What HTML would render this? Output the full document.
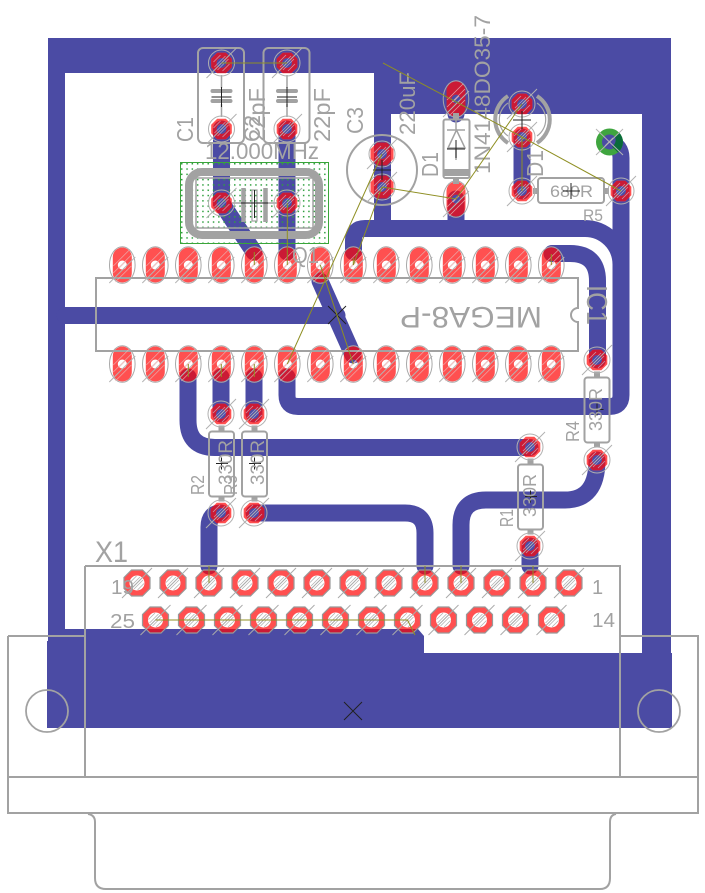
<!DOCTYPE html>
<html><head><meta charset="utf-8"><style>
html,body{margin:0;padding:0;background:#fff}
svg{display:block}
text{font-family:"Liberation Sans",sans-serif;fill:#a2a2a2}
</style></head><body>
<svg width="705" height="893" viewBox="0 0 705 893">
<defs>
<g id="cu">
<path fill="currentColor" fill-rule="evenodd" d="M48 38H671V653L672 653V728H47V641H48ZM65 73V629H418L424 636V653H642V114H391V220H374V73Z"/>
<path fill="none" stroke="currentColor" stroke-width="17" stroke-linecap="round" d="M221.5 129V203L254 252M287 129V252M353.5 252V240Q353.5 228.5 365 228.5H585A36 36 0 0 1 621 264.5V395Q621 406.5 609.5 406.5H298Q287 406.5 287 395V377M552 253.5H570Q597.5 253.5 597.5 281V360M609.5 142Q621 146 621 158V265M320 281L353 355M65 315.5H337M188 377V420Q188 447.5 215 447.5H530M221 377V414M254 377V414M254 513H405Q425 513 425 533V566M221 513Q209 513 209 527V566M461 566V525Q461 500 486 500H565Q597 500 597 460M530 546V566M522 137V191M456 99V114M456 199V228"/>
</g>
<path id="v" fill-rule="evenodd" d="M-4.300-10.300H4.300L10.300-4.300V4.300L4.300 10.300H-4.300L-10.300 4.300V-4.300ZM0-5A5 5 0 1 0 0 5A5 5 0 1 0 0-5Z"/>
<path id="vl" fill-rule="evenodd" d="M-4.800-11.500H4.800L11.500-4.800V4.800L4.800 11.500H-4.800L-11.500 4.800V-4.800ZM0-5A5 5 0 1 0 0 5A5 5 0 1 0 0-5Z"/>
<path id="o" fill-rule="evenodd" d="M-9.500-8A9.500 9.500 0 0 1 9.500-8V8A9.500 9.500 0 0 1-9.500 8ZM0-4.500A4.500 4.500 0 1 0 0 4.500A4.500 4.500 0 1 0 0-4.500Z"/>
<path id="x" fill-rule="evenodd" d="M-5.500-13H5.500L13-5.500V5.500L5.500 13H-5.500L-13 5.500V-5.500ZM0-7.500A7.500 7.500 0 1 0 0 7.500A7.500 7.500 0 1 0 0-7.500Z"/>
<g id="vd" fill="none">
<circle r="13" stroke="#b0b0b0" stroke-width="1"/>
<path d="M-15 15L15-15" stroke="#b0b0b0" stroke-width="1"/>
<path d="M-7 4L4-7M-4 7L7-4M-8-1L-1-8M1 8L8 1" stroke="#c8c8d8" stroke-width=".8" opacity=".7"/>
</g>
<g id="od" fill="none">
<ellipse rx="12.800" ry="18.300" stroke="#a8a8a8" stroke-width="1"/>
<path d="M-13 18L13-8" stroke="#b4b4b4" stroke-width="1"/>
<path d="M-9 8L9-10M-9 1L7-15M-7 17L9 1M-3 3L3-3" stroke="#e8b8b8" stroke-width=".8" opacity=".8"/>
</g>
<g id="xd" fill="none">
<path d="M-5.500-13H5.500L13-5.500V5.500L5.500 13H-5.500L-13 5.500V-5.500Z" stroke="#999" stroke-width="1.200"/>
<path d="M-15 15L15-15" stroke="#aaa" stroke-width="1"/>
<path d="M-6 3L3-6M-3 6L6-3M-7-.5L-.5-7M.5 7L7 .5" stroke="#b4b4b4" stroke-width=".8"/>
</g>
<g id="rings">
<use href="#v" x="221.500" y="63"/><use href="#v" x="287" y="63"/><use href="#v" x="221.500" y="129"/><use href="#v" x="287" y="129"/>
<use href="#v" x="221.500" y="203"/><use href="#v" x="287" y="203"/><use href="#vl" x="382" y="154"/><use href="#vl" x="382" y="187"/>
<use href="#v" x="522" y="104"/><use href="#v" x="522" y="137"/><use href="#v" x="522" y="191"/><use href="#v" x="621" y="191"/>
<use href="#v" x="221" y="414"/><use href="#v" x="254" y="414"/><use href="#v" x="221" y="513"/><use href="#v" x="254" y="513"/>
<use href="#v" x="597" y="360"/><use href="#v" x="597" y="460"/><use href="#v" x="530" y="447"/><use href="#v" x="530" y="546"/>
<use href="#o" x="456" y="99"/><use href="#o" x="456" y="199"/>
<use href="#o" x="122.300" y="265"/><use href="#o" x="155.300" y="265"/><use href="#o" x="188.300" y="265"/><use href="#o" x="221.300" y="265"/><use href="#o" x="254.300" y="265"/><use href="#o" x="287.300" y="265"/><use href="#o" x="320.300" y="265"/><use href="#o" x="353.300" y="265"/><use href="#o" x="386.300" y="265"/><use href="#o" x="419.300" y="265"/><use href="#o" x="452.300" y="265"/><use href="#o" x="485.300" y="265"/><use href="#o" x="518.300" y="265"/><use href="#o" x="551.300" y="265"/>
<use href="#o" x="122.300" y="364"/><use href="#o" x="155.300" y="364"/><use href="#o" x="188.300" y="364"/><use href="#o" x="221.300" y="364"/><use href="#o" x="254.300" y="364"/><use href="#o" x="287.300" y="364"/><use href="#o" x="320.300" y="364"/><use href="#o" x="353.300" y="364"/><use href="#o" x="386.300" y="364"/><use href="#o" x="419.300" y="364"/><use href="#o" x="452.300" y="364"/><use href="#o" x="485.300" y="364"/><use href="#o" x="518.300" y="364"/><use href="#o" x="551.300" y="364"/>
<use href="#x" x="137" y="583"/><use href="#x" x="173" y="583"/><use href="#x" x="209" y="583"/><use href="#x" x="245" y="583"/><use href="#x" x="281" y="583"/><use href="#x" x="317" y="583"/><use href="#x" x="353" y="583"/><use href="#x" x="389" y="583"/><use href="#x" x="425" y="583"/><use href="#x" x="461" y="583"/><use href="#x" x="497" y="583"/><use href="#x" x="533" y="583"/><use href="#x" x="569" y="583"/>
<use href="#x" x="155.500" y="620"/><use href="#x" x="191.500" y="620"/><use href="#x" x="227.500" y="620"/><use href="#x" x="263.500" y="620"/><use href="#x" x="299.500" y="620"/><use href="#x" x="335.500" y="620"/><use href="#x" x="371.500" y="620"/><use href="#x" x="407.500" y="620"/><use href="#x" x="443.500" y="620"/><use href="#x" x="479.500" y="620"/><use href="#x" x="515.500" y="620"/><use href="#x" x="551.500" y="620"/>
</g>
<mask id="cm" maskUnits="userSpaceOnUse" x="0" y="0" width="705" height="893"><use href="#cu" style="color:#fff"/></mask>
<pattern id="dots" width="5.300" height="5.300" patternUnits="userSpaceOnUse" x="181" y="163"><rect width="1.500" height="1.500" fill="#2f9f3f"/></pattern>
<g id="res" fill="none" stroke="#a2a2a2">
<rect x="-12" y="-32" width="25" height="65" rx="3" stroke-width="2"/>
<path d="M0.500-38V-33M0.500 33V38" stroke-width="6"/>
<path d="M-5 0H7M0.500-6V6" stroke="#222" stroke-width="1"/>
</g>
<g id="cap" fill="none">
<rect x="-23.500" y="-48" width="46" height="95" rx="5" stroke="#a2a2a2" stroke-width="2"/>
<path d="M0-21V-8M0 8V21" stroke="#a2a2a2" stroke-width="1.500"/>
<path d="M-9-5H9M-9 5H9" stroke="#a2a2a2" stroke-width="4" stroke-linecap="round"/>
<path d="M-10 1H10M0-9V11" stroke="#222" stroke-width="1"/>
</g>
</defs>

<rect width="705" height="893" fill="#fff"/>
<use href="#cu" style="color:#4b4ba4"/>

<!-- crystal area -->
<rect x="180.500" y="162.500" width="148" height="81" fill="url(#dots)" stroke="#3aa53a" stroke-width="1"/>

<use href="#rings" fill="#ff5050"/>
<g mask="url(#cm)"><use href="#rings" fill="#cb1a35"/></g>

<!-- via -->
<path fill="#3fa53f" fill-rule="evenodd" d="M609.500 128.500A13.500 13.500 0 1 0 609.500 155.500A13.500 13.500 0 1 0 609.500 128.500ZM609.500 134.500A7.500 7.500 0 1 1 609.500 149.500A7.500 7.500 0 1 1 609.500 134.500Z"/>
<path fill="#0a6b3a" d="M619 132.500A13.500 13.500 0 0 1 618 152.500L612 146.500A7.500 7.500 0 0 0 615 137Z"/>
<path d="M596 129L623 155M596 155L623 129M605 146L613 138" stroke="#b5b5b5" stroke-width="1" fill="none"/>

<!-- silk -->
<g fill="none" stroke="#a2a2a2">
<rect x="189" y="172" width="130" height="63" rx="13" stroke-width="8"/>
<rect x="196" y="178" width="117" height="50" stroke-width="1.500"/>
<path d="M243.500 188V222M265.500 188V222" stroke-width="4.500"/>
<rect x="252" y="190" width="5" height="31" stroke-width="1.200"/>
<path d="M232 203H243M266 203H277" stroke-width="1.500"/>
<rect x="96" y="278" width="482" height="73" stroke-width="2"/>
<path d="M8 636H85M85 566H620V777M85 566V777M620 636H698V813H8V636M8 777H698M88 814Q95 815 95 822V878Q95 889 106 889H600Q610 889 610 878V822Q610 815 616 814" stroke-width="2"/>
<circle cx="47" cy="711" r="21" stroke-width="1.800"/>
<circle cx="659" cy="711" r="21" stroke-width="1.800"/>
<circle cx="382" cy="170" r="35" stroke-width="2"/>
<rect x="443.500" y="119.500" width="26" height="58.500" rx="2" stroke-width="2"/>
<path d="M456 113V119M456 178V184" stroke-width="6"/>
<path d="M444 172.500H469" stroke-width="7"/>
<path d="M456 119V130M448 148H465L456.500 130ZM447 130H465M456 148V160" stroke-width="1.500"/>
<path d="M508 96A28 28 0 0 0 508 143M537 96A28 28 0 0 1 537 143" stroke-width="4"/>
<path d="M508 103A20 20 0 0 0 508 136M537 103A20 20 0 0 1 537 136" stroke-width="1.200"/>
<rect x="538" y="178" width="66" height="25" rx="3" stroke-width="2"/>
<path d="M533 191H538M604 191H609" stroke-width="6"/>
</g>
<path fill="#fff" stroke="#a2a2a2" stroke-width="2" d="M578 308A7 7 0 0 0 578 322"/>
<path stroke="#fff" stroke-width="2.500" d="M578 309V321"/>
<use href="#cap" x="221.500" y="96"/><use href="#cap" x="287" y="96"/>
<use href="#res" x="221" y="463.500"/><use href="#res" x="254" y="463.500"/>
<use href="#res" x="596.500" y="409.500"/><use href="#res" x="530" y="496.500"/>

<text transform="translate(193,142) rotate(-90)" font-size="23" textLength="25" lengthAdjust="spacingAndGlyphs">C1</text>
<text transform="translate(260,142) rotate(-90)" font-size="23" textLength="27" lengthAdjust="spacingAndGlyphs">C2</text>
<text transform="translate(265,142) rotate(-90)" font-size="23" textLength="54" lengthAdjust="spacingAndGlyphs">22pF</text>
<text transform="translate(330,142) rotate(-90)" font-size="23" textLength="54" lengthAdjust="spacingAndGlyphs">22pF</text>
<text transform="translate(363,134) rotate(-90)" font-size="23" textLength="27" lengthAdjust="spacingAndGlyphs">C3</text>
<text x="205" y="159" font-size="23" textLength="114" lengthAdjust="spacingAndGlyphs">12.000MHz</text>
<text transform="translate(415,135) rotate(-90)" font-size="22" textLength="63" lengthAdjust="spacingAndGlyphs">220uF</text>
<text transform="translate(438,177) rotate(-90)" font-size="23" textLength="25" lengthAdjust="spacingAndGlyphs">D1</text>
<text transform="translate(490,174) rotate(-90)" font-size="22" textLength="159" lengthAdjust="spacingAndGlyphs">1N4148DO35-7</text>
<text transform="translate(543,177) rotate(-90)" font-size="23" textLength="27" lengthAdjust="spacingAndGlyphs">D1</text>
<text x="550" y="197" font-size="17" textLength="43" lengthAdjust="spacingAndGlyphs">680R</text>
<text x="583" y="221" font-size="17" textLength="20" lengthAdjust="spacingAndGlyphs">R5</text>
<text x="292" y="263" font-size="23" textLength="27" lengthAdjust="spacingAndGlyphs">Q1</text>
<text transform="translate(542,307) rotate(180)" font-size="30" textLength="142" lengthAdjust="spacingAndGlyphs">MEGA8-P</text>
<text transform="translate(587,285) rotate(90)" font-size="29" textLength="40" lengthAdjust="spacingAndGlyphs">IC1</text>
<text transform="translate(204,495) rotate(-90)" font-size="18" textLength="20" lengthAdjust="spacingAndGlyphs">R2</text>
<text transform="translate(237,495) rotate(-90)" font-size="18" textLength="20" lengthAdjust="spacingAndGlyphs">R3</text>
<text transform="translate(232,485) rotate(-90)" font-size="19" textLength="45" lengthAdjust="spacingAndGlyphs">330R</text>
<text transform="translate(264,485) rotate(-90)" font-size="19" textLength="45" lengthAdjust="spacingAndGlyphs">330R</text>
<text transform="translate(579,442) rotate(-90)" font-size="18" textLength="21" lengthAdjust="spacingAndGlyphs">R4</text>
<text transform="translate(602,431) rotate(-90)" font-size="18" textLength="43" lengthAdjust="spacingAndGlyphs">330R</text>
<text transform="translate(513,527) rotate(-90)" font-size="18" textLength="18" lengthAdjust="spacingAndGlyphs">R1</text>
<text transform="translate(536,517) rotate(-90)" font-size="18" textLength="43" lengthAdjust="spacingAndGlyphs">330R</text>
<text x="95" y="562" font-size="30" textLength="33" lengthAdjust="spacingAndGlyphs">X1</text>
<text x="111" y="594" font-size="20" textLength="23" lengthAdjust="spacingAndGlyphs">19</text>
<text x="110" y="628" font-size="20" textLength="25" lengthAdjust="spacingAndGlyphs">25</text>
<text x="592" y="594" font-size="20">1</text>
<text x="592" y="627" font-size="20" textLength="23" lengthAdjust="spacingAndGlyphs">14</text>

<!-- pad overlays -->
<use href="#vd" x="221.500" y="63"/><use href="#vd" x="287" y="63"/><use href="#vd" x="221.500" y="129"/><use href="#vd" x="287" y="129"/>
<use href="#vd" x="221.500" y="203"/><use href="#vd" x="287" y="203"/><use href="#vd" x="382" y="154"/><use href="#vd" x="382" y="187"/>
<use href="#vd" x="522" y="104"/><use href="#vd" x="522" y="137"/><use href="#vd" x="522" y="191"/><use href="#vd" x="621" y="191"/>
<use href="#vd" x="221" y="414"/><use href="#vd" x="254" y="414"/><use href="#vd" x="221" y="513"/><use href="#vd" x="254" y="513"/>
<use href="#vd" x="597" y="360"/><use href="#vd" x="597" y="460"/><use href="#vd" x="530" y="447"/><use href="#vd" x="530" y="546"/>
<use href="#od" x="456" y="99"/><use href="#od" x="456" y="199"/>
<use href="#od" x="122.300" y="265"/><use href="#od" x="155.300" y="265"/><use href="#od" x="188.300" y="265"/><use href="#od" x="221.300" y="265"/><use href="#od" x="254.300" y="265"/><use href="#od" x="287.300" y="265"/><use href="#od" x="320.300" y="265"/><use href="#od" x="353.300" y="265"/><use href="#od" x="386.300" y="265"/><use href="#od" x="419.300" y="265"/><use href="#od" x="452.300" y="265"/><use href="#od" x="485.300" y="265"/><use href="#od" x="518.300" y="265"/><use href="#od" x="551.300" y="265"/>
<use href="#od" x="122.300" y="364"/><use href="#od" x="155.300" y="364"/><use href="#od" x="188.300" y="364"/><use href="#od" x="221.300" y="364"/><use href="#od" x="254.300" y="364"/><use href="#od" x="287.300" y="364"/><use href="#od" x="320.300" y="364"/><use href="#od" x="353.300" y="364"/><use href="#od" x="386.300" y="364"/><use href="#od" x="419.300" y="364"/><use href="#od" x="452.300" y="364"/><use href="#od" x="485.300" y="364"/><use href="#od" x="518.300" y="364"/><use href="#od" x="551.300" y="364"/>
<use href="#xd" x="137" y="583"/><use href="#xd" x="173" y="583"/><use href="#xd" x="209" y="583"/><use href="#xd" x="245" y="583"/><use href="#xd" x="281" y="583"/><use href="#xd" x="317" y="583"/><use href="#xd" x="353" y="583"/><use href="#xd" x="389" y="583"/><use href="#xd" x="425" y="583"/><use href="#xd" x="461" y="583"/><use href="#xd" x="497" y="583"/><use href="#xd" x="533" y="583"/><use href="#xd" x="569" y="583"/>
<use href="#xd" x="155.500" y="620"/><use href="#xd" x="191.500" y="620"/><use href="#xd" x="227.500" y="620"/><use href="#xd" x="263.500" y="620"/><use href="#xd" x="299.500" y="620"/><use href="#xd" x="335.500" y="620"/><use href="#xd" x="371.500" y="620"/><use href="#xd" x="407.500" y="620"/><use href="#xd" x="443.500" y="620"/><use href="#xd" x="479.500" y="620"/><use href="#xd" x="515.500" y="620"/><use href="#xd" x="551.500" y="620"/>

<!-- crosses -->
<g stroke="#222" stroke-width="1" fill="none">
<path d="M241 203H268M254.500 190V218"/>
<path d="M373 170H391M382 160V180"/>
<path d="M447 149H465M456 140V158"/>
<path d="M513 120H531M522 111V129"/>
<path d="M563 191H580M571 183V199"/>
<path d="M328 306L346 324M346 306L328 324"/>
<path d="M344 702L362 720M362 702L344 720"/>
</g>

<!-- airwires -->
<g stroke="#8f8f23" stroke-width="1" fill="none">
<path d="M221.500 63H287M382 154L287.300 364M382 187L353.300 265M382 187L456 199L522 104M383 63L522 137L621 191M522 137V191"/>
<path d="M320.300 265L353.300 364M287.300 203V265M254.300 265V252M188.300 364V377M221.300 364V377M254.300 364V377M353.300 265V258M551.300 265V254"/>
<path d="M155.500 620H407.500L415 635M209 583V566M425 583V566M461 583V566M533 583V566"/>
</g>
</svg>
</body></html>
